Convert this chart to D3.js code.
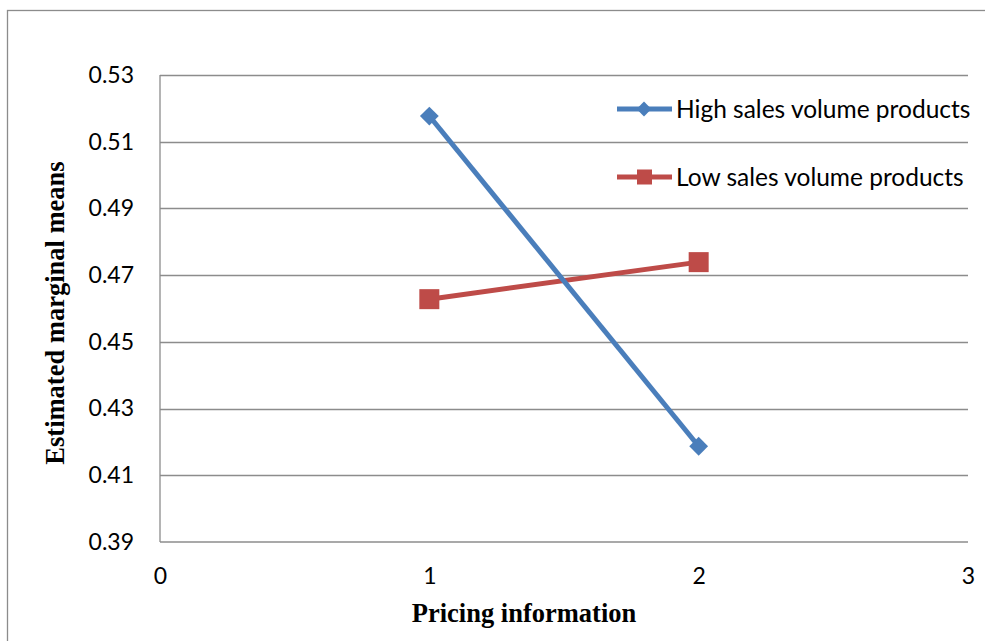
<!DOCTYPE html>
<html><head><meta charset="utf-8">
<script src="https://cdn.jsdelivr.net/npm/d3@7"></script>
<style>body{margin:0;background:#fff}svg{display:block}</style>
</head><body>
<script>
const xValues = [1, 2];
const highSales = [0.5177, 0.4187];
const lowSales = [0.4628, 0.4739];
const seriesNames = ["High sales volume products", "Low sales volume products"];
const yTicks = [0.39, 0.41, 0.43, 0.45, 0.47, 0.49, 0.51, 0.53];
const xTicks = [0, 1, 2, 3];

const W = 985, H = 641;
const svg = d3.select("body").append("svg").attr("width", W).attr("height", H);
svg.append("rect").attr("x", 7.5).attr("y", 10.5).attr("width", 1000).attr("height", 700)
  .attr("fill", "#fff").attr("stroke", "#8c8c8c").attr("stroke-width", 1.3);

const m = {l: 160, r: 968, t: 75, b: 542};
const x = d3.scaleLinear().domain([0, 3]).range([m.l, m.r]);
const y = d3.scaleLinear().domain([0.39, 0.53]).range([m.b, m.t]);

const tickFont = "Lato, 'Open Sans', sans-serif";
// gridlines
svg.append("g").selectAll("line").data(yTicks.slice(1)).join("line")
  .attr("x1", m.l).attr("x2", m.r).attr("y1", d => Math.round(y(d)) + 0.5).attr("y2", d => Math.round(y(d)) + 0.5)
  .attr("stroke", "#8c8c8c").attr("stroke-width", 1.3);
// axes lines
svg.append("line").attr("x1", m.l).attr("x2", m.l).attr("y1", m.t).attr("y2", m.b).attr("stroke", "#8c8c8c").attr("stroke-width", 1.3);
svg.append("line").attr("x1", m.l).attr("x2", m.r).attr("y1", m.b).attr("y2", m.b).attr("stroke", "#8c8c8c").attr("stroke-width", 1.3);

const yAxis = d3.axisLeft(y).tickValues(yTicks).tickFormat(d3.format(".2f")).tickSize(0).tickPadding(26);
const gy = svg.append("g").attr("transform", `translate(${m.l},0)`).call(yAxis);
gy.select(".domain").remove();
gy.selectAll("text").attr("font-family", tickFont).attr("font-size", 23).attr("fill", "#000");

const xAxis = d3.axisBottom(x).tickValues(xTicks).tickFormat(d3.format("d")).tickSize(0).tickPadding(26);
const gx = svg.append("g").attr("transform", `translate(0,${m.b})`).call(xAxis);
gx.select(".domain").remove();
gx.selectAll("text").attr("font-family", tickFont).attr("font-size", 23).attr("fill", "#000");

// axis titles
svg.append("text").attr("x", 524).attr("y", 622).attr("text-anchor", "middle")
  .attr("font-family", "'Liberation Serif', serif").attr("font-weight", "bold").attr("font-size", 26.5).text("Pricing information");
svg.append("text").attr("transform", "translate(64,313) rotate(-90)").attr("text-anchor", "middle")
  .attr("font-family", "'Liberation Serif', serif").attr("font-weight", "bold").attr("font-size", 26.5).text("Estimated marginal means");

const line = d3.line().x(d => x(d[0])).y(d => y(d[1]));
const blue = "#4a7ebb", red = "#be4b48";
const hs = xValues.map((v, i) => [v, highSales[i]]);
const ls = xValues.map((v, i) => [v, lowSales[i]]);

svg.append("path").datum(ls).attr("d", line).attr("fill", "none").attr("stroke", red).attr("stroke-width", 5);
svg.append("path").datum(hs).attr("d", line).attr("fill", "none").attr("stroke", blue).attr("stroke-width", 5);

svg.append("g").selectAll("rect").data(ls).join("rect")
  .attr("x", d => x(d[0]) - 10).attr("y", d => y(d[1]) - 10).attr("width", 20).attr("height", 20).attr("fill", red);
svg.append("g").selectAll("path").data(hs).join("path")
  .attr("transform", d => `translate(${x(d[0])},${y(d[1])})`)
  .attr("d", d3.symbol(d3.symbolDiamond2, 225)()).attr("fill", blue);

// legend
const legend = svg.append("g");
const legY = [109, 177];
const cols = [blue, red];
seriesNames.forEach((n, i) => {
  legend.append("line").attr("x1", 617).attr("x2", 672).attr("y1", legY[i]).attr("y2", legY[i]).attr("stroke", cols[i]).attr("stroke-width", 5);
  if (i === 0) {
    legend.append("path").attr("transform", `translate(644,${legY[i]})`).attr("d", d3.symbol(d3.symbolDiamond2, 140)()).attr("fill", blue);
  } else {
    legend.append("rect").attr("x", 637).attr("y", legY[i] - 7.5).attr("width", 15).attr("height", 15).attr("fill", red);
  }
  legend.append("text").attr("x", 676).attr("y", legY[i] + 9).attr("font-family", tickFont).attr("font-size", 24.5).attr("fill", "#000").text(n);
});
</script>
</body></html>
